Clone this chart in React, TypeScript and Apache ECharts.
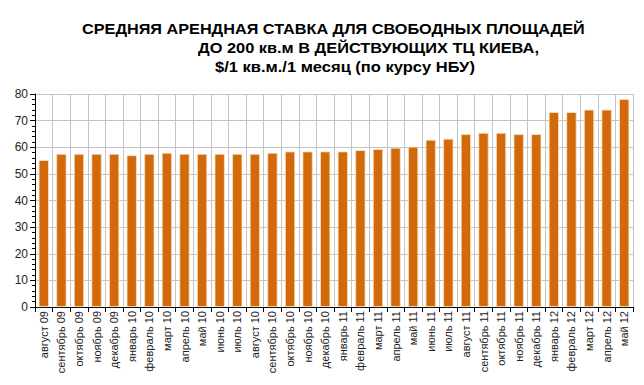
import React, { useEffect, useRef } from "react";
import * as echarts from "echarts";

const titleLines = [
  "СРЕДНЯЯ АРЕНДНАЯ СТАВКА ДЛЯ СВОБОДНЫХ ПЛОЩАДЕЙ",
  "ДО 200 кв.м В ДЕЙСТВУЮЩИХ ТЦ КИЕВА,",
  "$/1 кв.м./1 месяц (по курсу НБУ)",
];

const categories = [
  "август 09", "сентябрь 09", "октябрь 09", "ноябрь 09", "декабрь 09",
  "январь 10", "февраль 10", "март 10", "апрель 10", "май 10", "июнь 10",
  "июль 10", "август 10", "сентябрь 10", "октябрь 10", "ноябрь 10", "декабрь 10",
  "январь 11", "февраль 11", "март 11", "апрель 11", "май 11", "июнь 11",
  "июль 11", "август 11", "сентябрь 11", "октябрь 11", "ноябрь 11", "декабрь 11",
  "январь 12", "февраль 12", "март 12", "апрель 12", "май 12",
];

const values = [
  55.2, 57.5, 57.5, 57.5, 57.5,
  57.0, 57.5, 57.9, 57.5, 57.5, 57.5,
  57.5, 57.5, 57.9, 58.4, 58.4, 58.4,
  58.4, 58.9, 59.3, 59.8, 60.2, 62.8,
  63.2, 64.9, 65.4, 65.4, 64.9, 64.9,
  73.2, 73.2, 74.1, 74.1, 78.1,
];

const yTicks = { min: 0, max: 80, interval: 10 };

export default function App() {
  const ref = useRef<HTMLDivElement>(null);
  useEffect(() => {
    if (!ref.current) return;
    const chart = echarts.init(ref.current, null, { renderer: "svg" });
    const font = "'Liberation Sans', Arial, sans-serif";
    const titleStyle = (text: string) => ({
      text,
      font: `bold 14px ${font}`,
      fill: "#000",
      textVerticalAlign: "top",
    });
    chart.setOption({
      animation: false,
      backgroundColor: "#ffffff",
      graphic: [
        { type: "text", x: 82, y: 22, scaleX: 1.16, style: titleStyle(titleLines[0]) },
        { type: "text", x: 198, y: 41, scaleX: 1.17, style: titleStyle(titleLines[1]) },
        { type: "text", x: 215, y: 60, scaleX: 1.18, style: titleStyle(titleLines[2]) },
      ],
      grid: { left: 35, right: 11, top: 94, bottom: 78, containLabel: false },
      xAxis: {
        type: "category",
        data: categories,
        boundaryGap: true,
        axisLine: { show: true, lineStyle: { color: "#000", width: 1 } },
        axisTick: { show: true, alignWithLabel: false, length: 5, lineStyle: { color: "#000" } },
        splitLine: { show: true, interval: 0, lineStyle: { color: "#c4c4c4", width: 1 } },
        axisLabel: {
          interval: 0,
          rotate: 90,
          fontFamily: font,
          fontSize: 11,
          color: "#222",
          margin: 4,
        },
      },
      yAxis: {
        type: "value",
        min: yTicks.min,
        max: yTicks.max,
        interval: yTicks.interval,
        axisLine: { show: true, lineStyle: { color: "#000", width: 1 } },
        axisTick: { show: true, length: 5, lineStyle: { color: "#000" } },
        minorTick: { show: true, splitNumber: 5, length: 3, lineStyle: { color: "#000" } },
        splitLine: { show: true, lineStyle: { color: "#c4c4c4", width: 1 } },
        axisLabel: { fontFamily: font, fontSize: 12, color: "#222", margin: 7 },
      },
      series: [
        {
          type: "bar",
          data: values,
          barWidth: "58%",
          itemStyle: { color: "#D2690A", borderColor: "#f7e3c4", borderWidth: 0.8 },
        },
      ],
    });
    return () => chart.dispose();
  }, []);
  return <div ref={ref} style={{ width: 644, height: 385, marginLeft: -8, marginTop: -8 }} />;
}
